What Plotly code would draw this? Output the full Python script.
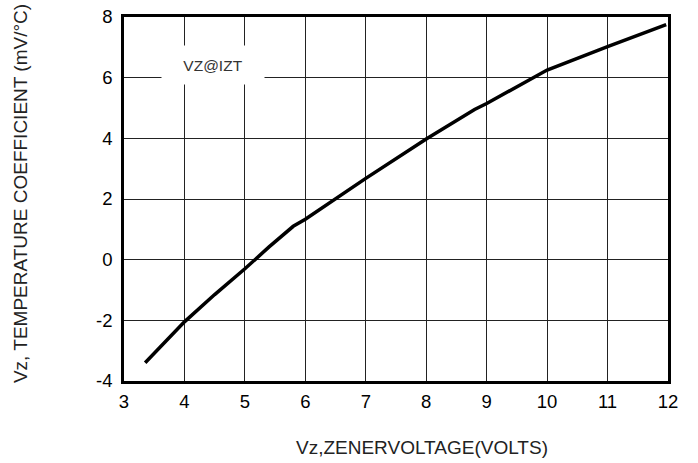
import plotly.graph_objects as go

# Data
vz_volts = [3.35, 4.0, 4.5, 5.0, 5.4, 5.8, 6.0, 6.5, 7.0, 8.0, 8.8, 9.0, 9.5, 10.0, 11.0, 11.97]
temp_coeff = [-3.4, -2.05, -1.15, -0.3, 0.42, 1.1, 1.33, 2.0, 2.68, 3.98, 4.95, 5.15, 5.7, 6.25, 7.02, 7.75]

x_ticks = [3, 4, 5, 6, 7, 8, 9, 10, 11, 12]
y_ticks = [-4, -2, 0, 2, 4, 6, 8]
y_tick_labels = ["-4", "-2", "0", "2", "4", "6", "8"]

FONT = "Liberation Sans, Arial, sans-serif"

fig = go.Figure()
fig.add_trace(go.Scatter(
    x=vz_volts, y=temp_coeff, mode="lines",
    line=dict(color="black", width=3.5),
    showlegend=False, hoverinfo="skip",
))

axis_common = dict(
    showgrid=True, gridcolor="#222222", gridwidth=1.2,
    zeroline=False, showline=True, linecolor="black", linewidth=2.5,
    mirror=True, ticks="", automargin=False,
    tickfont=dict(family=FONT, size=18.5, color="black"),
)

fig.update_layout(
    width=698, height=463,
    margin=dict(l=124, r=30, t=17, b=82, autoexpand=False),
    paper_bgcolor="white", plot_bgcolor="white",
    font=dict(family=FONT, color="black"),
    xaxis=dict(range=[3, 12], tickvals=x_ticks, ticklabelstandoff=2, **axis_common),
    yaxis=dict(range=[-4, 8], tickvals=y_ticks, ticktext=y_tick_labels,
               ticklabelstandoff=5, **axis_common),
    annotations=[
        dict(x=4.47, y=6.42, xref="x", yref="y", text="VZ@IZT", showarrow=False,
             font=dict(family=FONT, size=15.5, color="#333333"),
             bgcolor="white", width=100, height=36),
        dict(x=0.548, y=-0.184, xref="paper", yref="paper", text="Vz,ZENERVOLTAGE(VOLTS)",
             showarrow=False, xanchor="center", yanchor="middle",
             font=dict(family=FONT, size=19, color="#222222")),
        dict(x=-0.189, y=0.514, xref="paper", yref="paper",
             text="Vz, TEMPERATURE COEFFICIENT (mV/°C)", textangle=-90,
             showarrow=False, xanchor="center", yanchor="middle",
             font=dict(family=FONT, size=19, color="#222222")),
    ],
)

fig.write_html("out.html", config={"displayModeBar": False},
               post_script="document.body.style.margin='0';document.body.style.overflow='hidden';")
